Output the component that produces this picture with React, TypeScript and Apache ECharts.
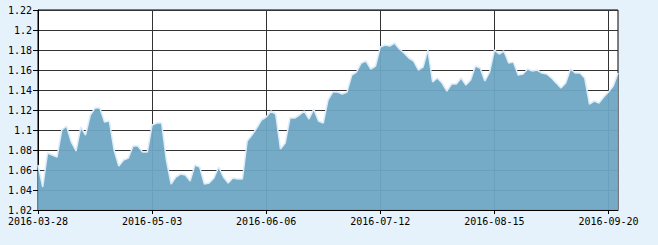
import React, { useEffect, useRef } from "react";
import * as echarts from "echarts";

const dates: string[] = [
  "2016-03-28","2016-03-29","2016-03-30","2016-03-31",
  "2016-04-01","2016-04-05","2016-04-06","2016-04-07","2016-04-08",
  "2016-04-11","2016-04-12","2016-04-13","2016-04-14","2016-04-15",
  "2016-04-18","2016-04-19","2016-04-20","2016-04-21","2016-04-22",
  "2016-04-25","2016-04-26","2016-04-27","2016-04-28","2016-04-29",
  "2016-05-03","2016-05-04","2016-05-05","2016-05-06",
  "2016-05-09","2016-05-10","2016-05-11","2016-05-12","2016-05-13",
  "2016-05-16","2016-05-17","2016-05-18","2016-05-19","2016-05-20",
  "2016-05-23","2016-05-24","2016-05-25","2016-05-26","2016-05-27",
  "2016-05-30","2016-05-31","2016-06-01","2016-06-02","2016-06-03",
  "2016-06-06","2016-06-07","2016-06-08",
  "2016-06-13","2016-06-14","2016-06-15","2016-06-16","2016-06-17",
  "2016-06-20","2016-06-21","2016-06-22","2016-06-23","2016-06-24",
  "2016-06-27","2016-06-28","2016-06-29","2016-06-30","2016-07-01",
  "2016-07-04","2016-07-05","2016-07-06","2016-07-07","2016-07-08",
  "2016-07-11","2016-07-12","2016-07-13","2016-07-14","2016-07-15",
  "2016-07-18","2016-07-19","2016-07-20","2016-07-21","2016-07-22",
  "2016-07-25","2016-07-26","2016-07-27","2016-07-28","2016-07-29",
  "2016-08-01","2016-08-02","2016-08-03","2016-08-04","2016-08-05",
  "2016-08-08","2016-08-09","2016-08-10","2016-08-11","2016-08-12",
  "2016-08-15","2016-08-16","2016-08-17","2016-08-18","2016-08-19",
  "2016-08-22","2016-08-23","2016-08-24","2016-08-25","2016-08-26",
  "2016-08-29","2016-08-30","2016-08-31","2016-09-01","2016-09-02",
  "2016-09-05","2016-09-06","2016-09-07","2016-09-08","2016-09-09",
  "2016-09-12","2016-09-13","2016-09-14",
  "2016-09-19","2016-09-20","2016-09-21","2016-09-22",
];

const values: number[] = [
  1.065, 1.043, 1.077, 1.075, 1.073, 1.100, 1.104, 1.088, 1.079, 1.103,
  1.095, 1.115, 1.122, 1.122, 1.108, 1.109, 1.080, 1.064, 1.070, 1.072,
  1.084, 1.084, 1.078, 1.078, 1.105, 1.107, 1.107, 1.070, 1.046, 1.053,
  1.056, 1.055, 1.049, 1.065, 1.063, 1.046, 1.047, 1.052, 1.063, 1.053,
  1.047, 1.052, 1.051, 1.051, 1.089, 1.095, 1.102, 1.110, 1.113, 1.119,
  1.116, 1.081, 1.087, 1.112, 1.112, 1.115, 1.119, 1.111, 1.121, 1.109,
  1.107, 1.130, 1.138, 1.138, 1.136, 1.138, 1.155, 1.158, 1.167, 1.169,
  1.161, 1.164, 1.183, 1.185, 1.184, 1.187, 1.181, 1.177, 1.172, 1.169,
  1.160, 1.163, 1.180, 1.148, 1.152, 1.147, 1.139, 1.146, 1.146, 1.152,
  1.145, 1.150, 1.164, 1.162, 1.149, 1.158, 1.180, 1.176, 1.179, 1.167,
  1.168, 1.155, 1.156, 1.161, 1.159, 1.160, 1.157, 1.156, 1.152, 1.147,
  1.142, 1.147, 1.161, 1.157, 1.157, 1.152, 1.126, 1.129, 1.127, 1.133,
  1.138, 1.144, 1.157,
];

const yMin = 1.02;
const yMax = 1.22;
const yStep = 0.02;
const labelEvery = 24;

export default function App() {
  const ref = useRef<HTMLDivElement>(null);
  useEffect(() => {
    if (!ref.current) return;
    const chart = echarts.init(ref.current, undefined, { renderer: "svg" });
    const font = "DejaVu Sans Mono";
    chart.setOption({
      animation: false,
      backgroundColor: "#e6f2fb",
      grid: {
        left: 38,
        right: 40,
        top: 10,
        bottom: 35,
        show: true,
        backgroundColor: "#ffffff",
        borderColor: "#000000",
        borderWidth: 1,
      },
      xAxis: {
        type: "category",
        data: dates,
        boundaryGap: false,
        axisLine: { show: true, lineStyle: { color: "#000", width: 1 } },
        axisTick: { show: true, interval: labelEvery - 1, length: 4, lineStyle: { color: "#000" } },
        axisLabel: {
          interval: labelEvery - 1,
          color: "#000",
          fontFamily: font,
          fontSize: 10,
          margin: 6,
        },
        splitLine: { show: true, interval: labelEvery - 1, lineStyle: { color: "#333", width: 1 } },
      },
      yAxis: {
        type: "value",
        min: yMin,
        max: yMax,
        interval: yStep,
        axisLine: { show: true, lineStyle: { color: "#000", width: 1 } },
        axisTick: { show: true, length: 5, lineStyle: { color: "#000" } },
        axisLabel: {
          color: "#000",
          fontFamily: font,
          fontSize: 10,
          margin: 6,
        },
        splitLine: { show: true, lineStyle: { color: "#333", width: 1 } },
      },
      series: [
        {
          type: "line",
          data: values,
          symbol: "none",
          lineStyle: { color: "#dcecf8", width: 1.5 },
          areaStyle: { color: "#6fa6c4", opacity: 0.95 },
        },
      ],
    });
    return () => chart.dispose();
  }, []);
  return (
    <div
      ref={ref}
      style={{ position: "fixed", left: 0, top: 0, width: 658, height: 245 }}
    />
  );
}
